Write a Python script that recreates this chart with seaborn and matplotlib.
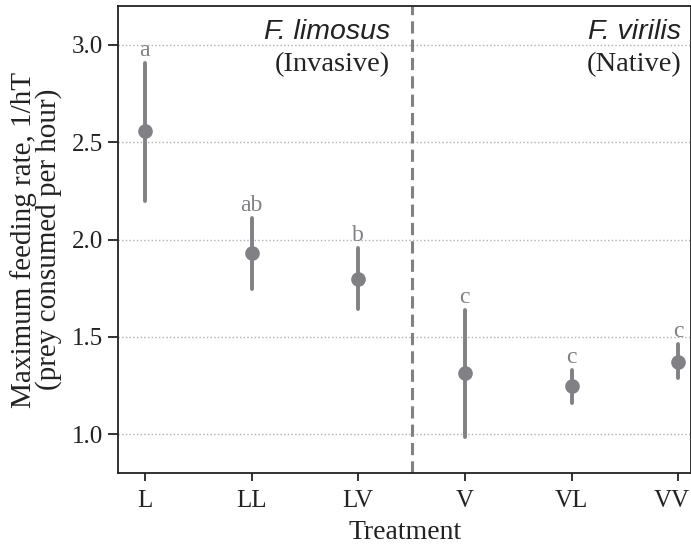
import pandas as pd
import seaborn as sns
import matplotlib.pyplot as plt
import matplotlib.transforms as mtransforms

treatments = ['L', 'LL', 'LV', 'V', 'VL', 'VV']
rate_mean = [2.556, 1.929, 1.796, 1.314, 1.245, 1.372]
rate_low = [2.199, 1.745, 1.643, 0.986, 1.160, 1.290]
rate_high = [2.908, 2.112, 1.959, 1.638, 1.332, 1.464]
letters = ['a', 'ab', 'b', 'c', 'c', 'c']

# long table: median of (low, mean, high) = mean, full range = CI
rows = []
for t, lo, m, hi in zip(treatments, rate_low, rate_mean, rate_high):
    for v in (lo, m, hi):
        rows.append({'Treatment': t, 'rate': v})
df = pd.DataFrame(rows)

sns.set_theme(style="ticks")
plt.rcParams['font.family'] = ['Liberation Serif', 'DejaVu Serif']

grey = '#808085'
ink = '#222222'
fig = plt.figure(figsize=(6.91, 5.45), dpi=100)
ax = fig.add_axes([0.171, 0.132, 0.829, 0.857])

sns.pointplot(data=df, x='Treatment', y='rate', order=treatments,
              estimator='median', errorbar=('pi', 100), color=grey,
              linestyle='none', markersize=8.5, err_kws={'linewidth': 2.8},
              ax=ax)

for i, (hi, lab) in enumerate(zip(rate_high, letters)):
    ax.text(i, hi + 0.01, lab, ha='center', va='bottom', color=grey, fontsize=17)

ax.axvline(2.5, color=grey, linestyle=(0, (4, 2)), linewidth=2.2)
ax.set_xlim(-0.25, 5.12)
ax.set_ylim(0.8, 3.2)
ax.set_yticks([1.0, 1.5, 2.0, 2.5, 3.0])
ax.set_yticklabels(['1.0', '1.5', '2.0', '2.5', '3.0'])
ax.yaxis.grid(True, linestyle=':', color='#b0b0b0', linewidth=1)
ax.set_axisbelow(True)

for s in ax.spines.values():
    s.set_color(ink)
    s.set_linewidth(1.3)
ax.tick_params(axis='y', labelsize=18, colors=ink, length=7, width=1.3, pad=4)
ax.tick_params(axis='x', labelsize=18, colors=ink, length=6, width=1.3, pad=6)

# last label sits at the figure edge; nudge it left a little so it fits
last = ax.get_xticklabels()[-1]
last.set_transform(last.get_transform() +
                   mtransforms.ScaledTranslation(-6 / 100, 0, fig.dpi_scale_trans))

ax.set_xlabel('Treatment', fontsize=20, color=ink, labelpad=6)
ax.set_ylabel('Maximum feeding rate, 1/hT\n(prey consumed per hour)',
              fontsize=21, color=ink, linespacing=0.92, labelpad=7)

sans = ['Liberation Sans', 'DejaVu Sans']
ax.text(2.30, 3.066, 'F. limosus', ha='right', va='center', style='italic',
        family=sans, fontsize=20.5, color=ink)
ax.text(2.30, 2.90, '(Invasive)', ha='right', va='center', fontsize=20.5, color=ink)
ax.text(5.03, 3.066, 'F. virilis', ha='right', va='center', style='italic',
        family=sans, fontsize=20.5, color=ink)
ax.text(5.03, 2.90, '(Native)', ha='right', va='center', fontsize=20.5, color=ink)

plt.savefig("out.png")
